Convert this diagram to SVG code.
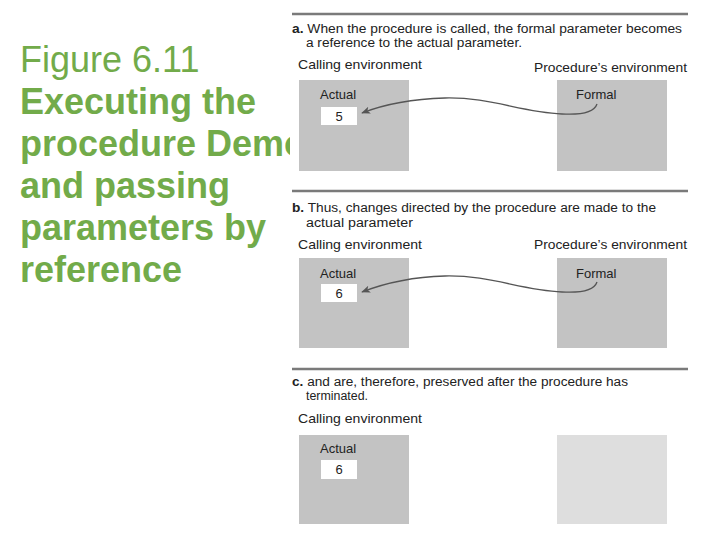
<svg xmlns="http://www.w3.org/2000/svg" width="720" height="540" viewBox="0 0 720 540">
<defs>
<style>
.title{font-family:"Liberation Sans",Arial,sans-serif;font-size:36px;fill:#72AB4A}
.b{font-weight:bold}
.t{font-family:"Liberation Sans",Arial,sans-serif;font-size:13px;fill:#222}
.h{font-family:"Liberation Sans",Arial,sans-serif;font-size:12.5px;fill:#222}
.rule{stroke:#7a7a7a;stroke-width:2.5}
.env{fill:#c3c3c3}
.envl{fill:#dedede}
.val{fill:#fff}
.conn{fill:none;stroke:#555;stroke-width:1.3}
</style>
<marker id="ah" viewBox="0 0 10 10" refX="9" refY="5" markerWidth="9" markerHeight="9" orient="auto" markerUnits="userSpaceOnUse">
<path d="M0,1 L10,5 L0,9 L2.5,5 Z" fill="#555"/>
</marker>
</defs>
<rect width="720" height="540" fill="#fff"/>
<g id="title">
<text class="title" x="20" y="72">Figure 6.11</text>
<text class="title b" x="20" y="114">Executing the</text>
<text class="title b" x="20" y="156">procedure Demo</text>
<text class="title b" x="20" y="198">and passing</text>
<text class="title b" x="20" y="240">parameters by</text>
<text class="title b" x="20" y="282">reference</text>
</g>
<rect x="290" y="0" width="430" height="540" fill="#fff"/>
<g id="panel-a">
<line class="rule" x1="292" y1="14" x2="688" y2="14"/>
<text class="h" x="292" y="32.5" textLength="390" lengthAdjust="spacingAndGlyphs"><tspan class="b">a.</tspan> When the procedure is called, the formal parameter becomes</text>
<text class="h" x="306" y="46.5" textLength="216" lengthAdjust="spacingAndGlyphs">a reference to the actual parameter.</text>
<text class="t" x="298" y="69" textLength="124" lengthAdjust="spacingAndGlyphs">Calling environment</text>
<text class="t" x="534" y="72" textLength="153" lengthAdjust="spacingAndGlyphs">Procedure’s environment</text>
</g>
<g id="a-calling"><rect class="env" x="299" y="80" width="110" height="91"/><text class="t" x="320" y="99">Actual</text><rect class="val" x="321" y="107" width="36" height="18"/><text class="t" x="339" y="121" text-anchor="middle">5</text></g>
<g id="a-procedure"><rect class="env" x="557" y="80" width="110" height="91"/><text class="t" x="576" y="99">Formal</text></g>
<g id="panel-b">
<line class="rule" x1="292" y1="191" x2="688" y2="191"/>
<text class="h" x="292" y="211.5" textLength="364" lengthAdjust="spacingAndGlyphs"><tspan class="b">b.</tspan> Thus, changes directed by the procedure are made to the</text>
<text class="h" x="306" y="226.5" textLength="107" lengthAdjust="spacingAndGlyphs">actual parameter</text>
<text class="t" x="298" y="249" textLength="124" lengthAdjust="spacingAndGlyphs">Calling environment</text>
<text class="t" x="534" y="249" textLength="153" lengthAdjust="spacingAndGlyphs">Procedure’s environment</text>
</g>
<g id="b-calling"><rect class="env" x="299" y="258" width="110" height="90"/><text class="t" x="320" y="278">Actual</text><rect class="val" x="321" y="284" width="36" height="18"/><text class="t" x="339" y="298" text-anchor="middle">6</text></g>
<g id="b-procedure"><rect class="env" x="557" y="258" width="110" height="90"/><text class="t" x="576" y="278">Formal</text></g>
<g id="panel-c">
<line class="rule" x1="292" y1="369" x2="688" y2="369"/>
<text class="h" x="292" y="385.5" textLength="336" lengthAdjust="spacingAndGlyphs"><tspan class="b">c.</tspan> and are, therefore, preserved after the procedure has</text>
<text class="h" x="306" y="400" textLength="62" lengthAdjust="spacingAndGlyphs">terminated.</text>
<text class="t" x="298" y="423" textLength="124" lengthAdjust="spacingAndGlyphs">Calling environment</text>
</g>
<g id="c-calling"><rect class="env" x="299" y="435" width="110" height="89"/><text class="t" x="320" y="453">Actual</text><rect class="val" x="321" y="460" width="36" height="19"/><text class="t" x="339" y="474" text-anchor="middle">6</text></g>
<g id="c-procedure"><rect class="envl" x="557" y="435" width="110" height="89"/></g>
<g id="connectors">
<path class="conn" marker-end="url(#ah)" d="M597,104 C594,113 580,115 562,114 C520,112 490,97 445,98 C410,99 385,104 362,113"/>
<path class="conn" marker-end="url(#ah)" d="M597,282 C594,291 580,293 562,292 C520,290 490,275 445,276 C410,277 385,283 362,292"/>
</g>
</svg>
